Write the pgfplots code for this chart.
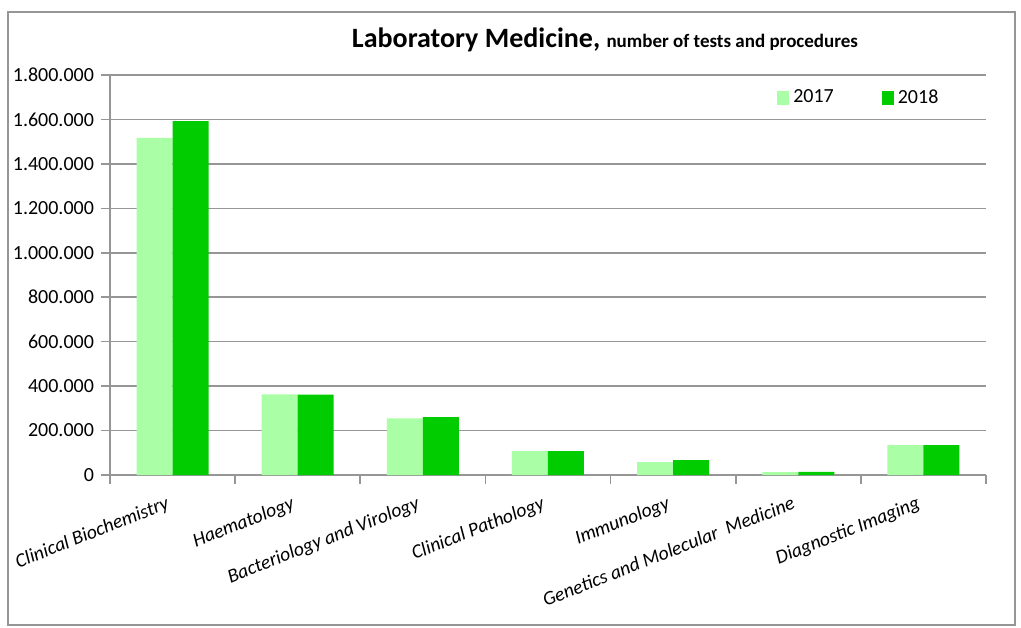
\documentclass[border=0pt]{standalone}
\usepackage{pgfplots}
\pgfplotsset{compat=1.18}
\usepackage{fontspec}
\setmainfont{Carlito}
\definecolor{light}{RGB}{170,255,166}
\definecolor{dark}{RGB}{0,204,0}
\definecolor{gridc}{RGB}{150,150,150}
\begin{document}
\begin{tikzpicture}
\useasboundingbox (-55pt,-76pt) rectangle (455.5pt,237.5pt);
\draw[gridc,line width=0.8pt] (-51pt,-75pt) rectangle (452.5pt,231.5pt);
\begin{axis}[
    scale only axis,
    width=438pt, height=200pt,
    ybar=0pt, bar width=18pt,
    ymin=0, ymax=1800000,
    xmin=-0.5, xmax=6.5,
    axis x line*=bottom,
    axis y line*=left,
    axis line style={gridc,line width=0.8pt},
    ymajorgrids,
    grid style={gridc,line width=0.8pt},
    ytick={0,200000,...,1800000},
    scaled y ticks=false,
    yticklabel style={font=\fontsize{10}{12}\selectfont,
      /pgf/number format/.cd,fixed,1000 sep={.},assume math mode=true},
    xtick={0,...,6},
    xticklabels={Clinical Biochemistry,Haematology,Bacteriology and Virology,
      Clinical Pathology,Immunology,Genetics and Molecular\ \ Medicine,Diagnostic Imaging},
    major x tick style={draw=none},
    minor xtick={-0.5,0.5,...,6.5},
    minor x tick style={gridc,line width=0.8pt},
    tick align=outside,
    major tick length=4.5pt, minor tick length=4.5pt,
    y tick style={gridc,line width=0.8pt},
    xticklabel style={font=\fontsize{9.8}{12}\selectfont\itshape,rotate=21.5,
      anchor=north east,xshift=-2pt,yshift=-0.5pt},
    legend style={draw=none,fill=none,at={(0.856,0.9425)},anchor=center,
      legend columns=2,font=\fontsize{10}{12}\selectfont,
      /tikz/every even column/.append style={column sep=22pt}},
    legend image code/.code={\fill[#1] (0pt,-3.5pt) rectangle (6pt,3.5pt);},
  ]
\addplot[fill=light,draw=none] coordinates {
  (0,1517000) (1,363000) (2,255000) (3,108000) (4,58000) (5,13000) (6,134000)};
\addplot[fill=dark,draw=none] coordinates {
  (0,1593000) (1,362000) (2,261000) (3,108000) (4,67000) (5,14000) (6,134000)};
\legend{2017,2018}
\end{axis}
\node[anchor=base] at (247.5pt,213.5pt)
  {\bfseries\fontsize{14}{16}\selectfont Laboratory Medicine,
   \fontsize{9.5}{11}\selectfont number of tests and procedures};
\end{tikzpicture}
\end{document}
